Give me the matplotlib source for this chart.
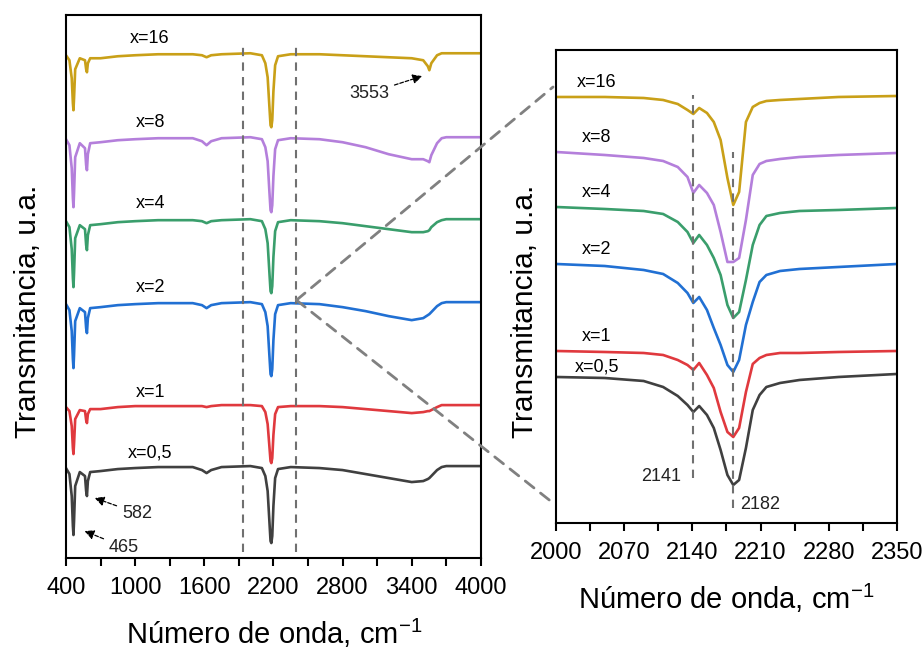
import matplotlib as mpl
mpl.use('Agg')
import matplotlib.pyplot as plt
from matplotlib.patches import ConnectionPatch

plt.rcParams['font.family'] = ['Liberation Sans', 'DejaVu Sans']
plt.rcParams['mathtext.fontset'] = 'custom'
plt.rcParams['mathtext.rm'] = 'Liberation Sans'

# ---- datos: espectro completo (panel izquierdo) ----
wn_full = [400, 430, 450, 460, 465, 470, 480, 520, 565, 575,
           582, 590, 610, 700, 850, 1000, 1200, 1500, 1580, 1620,
           1660, 1750, 2000, 2100, 2130, 2150, 2165, 2175, 2182, 2190,
           2200, 2215, 2240, 2350, 2600, 2800, 3000, 3200, 3400, 3500,
           3540, 3553, 3570, 3620, 3660, 3700, 4000]

t_full_05 = [0.90, 0.84, 0.62, 0.32, 0.23, 0.37, 0.72, 0.86, 0.82, 0.67,
             0.62, 0.77, 0.86, 0.87, 0.89, 0.90, 0.91, 0.91, 0.88, 0.85,
             0.88, 0.91, 0.92, 0.90, 0.82, 0.67, 0.37, 0.17, 0.15, 0.22,
             0.52, 0.80, 0.89, 0.91, 0.90, 0.88, 0.84, 0.80, 0.76, 0.77,
             0.79, 0.80, 0.82, 0.88, 0.91, 0.92, 0.92]
t_full_1 = [1.51, 1.47, 1.32, 1.10, 1.04, 1.14, 1.39, 1.48, 1.47, 1.38,
            1.35, 1.44, 1.49, 1.49, 1.51, 1.52, 1.52, 1.52, 1.52, 1.51,
            1.52, 1.53, 1.53, 1.52, 1.46, 1.34, 1.12, 0.97, 0.95, 1.00,
            1.23, 1.44, 1.51, 1.52, 1.52, 1.51, 1.49, 1.47, 1.45, 1.46,
            1.47, 1.47, 1.48, 1.51, 1.53, 1.53, 1.53]
t_full_2 = [2.54, 2.48, 2.27, 1.99, 1.90, 2.03, 2.37, 2.50, 2.46, 2.30,
            2.25, 2.40, 2.50, 2.51, 2.53, 2.54, 2.55, 2.55, 2.53, 2.50,
            2.53, 2.55, 2.56, 2.54, 2.46, 2.32, 2.03, 1.84, 1.82, 1.89,
            2.18, 2.44, 2.53, 2.55, 2.54, 2.51, 2.47, 2.42, 2.38, 2.40,
            2.43, 2.44, 2.46, 2.52, 2.55, 2.56, 2.56]
t_full_4 = [3.37, 3.31, 3.09, 2.80, 2.71, 2.85, 3.20, 3.33, 3.29, 3.13,
            3.08, 3.23, 3.33, 3.34, 3.36, 3.37, 3.38, 3.38, 3.37, 3.35,
            3.37, 3.38, 3.39, 3.37, 3.29, 3.15, 2.86, 2.67, 2.65, 2.72,
            3.01, 3.27, 3.36, 3.38, 3.37, 3.35, 3.32, 3.29, 3.26, 3.26,
            3.27, 3.28, 3.31, 3.36, 3.38, 3.39, 3.39]
t_full_8 = [4.19, 4.13, 3.90, 3.60, 3.51, 3.65, 4.01, 4.15, 4.10, 3.93,
            3.88, 4.04, 4.15, 4.16, 4.18, 4.19, 4.20, 4.20, 4.17, 4.13,
            4.17, 4.20, 4.21, 4.19, 4.11, 3.97, 3.67, 3.48, 3.46, 3.53,
            3.82, 4.09, 4.18, 4.20, 4.19, 4.16, 4.11, 4.04, 3.99, 3.99,
            3.97, 3.96, 4.03, 4.15, 4.20, 4.21, 4.21]
t_full_16 = [5.03, 4.98, 4.80, 4.55, 4.48, 4.60, 4.89, 5.00, 4.98, 4.89,
             4.86, 4.95, 5.00, 5.00, 5.02, 5.03, 5.04, 5.04, 5.03, 5.01,
             5.03, 5.04, 5.05, 5.03, 4.95, 4.81, 4.52, 4.33, 4.31, 4.38,
             4.67, 4.93, 5.02, 5.04, 5.04, 5.03, 5.02, 5.01, 5.00, 4.98,
             4.92, 4.88, 4.95, 5.03, 5.05, 5.05, 5.05]

# ---- datos: zona 2000-2350 (panel derecho) ----
wn_zoom = [2000, 2050, 2090, 2110, 2125, 2135, 2141, 2147, 2155, 2162, 2169,
           2176, 2182, 2188, 2195, 2202, 2209, 2216, 2230, 2250, 2290, 2350]

t_zoom_05 = [1.46, 1.45, 1.42, 1.36, 1.27, 1.18, 1.11, 1.17, 1.08, 0.95, 0.73,
             0.48, 0.38, 0.43, 0.75, 1.13, 1.28, 1.36, 1.40, 1.43, 1.46, 1.49]
t_zoom_1 = [1.72, 1.71, 1.70, 1.68, 1.63, 1.58, 1.53, 1.60, 1.48, 1.35, 1.11,
            0.91, 0.86, 0.95, 1.31, 1.59, 1.65, 1.68, 1.70, 1.70, 1.71, 1.72]
t_zoom_2 = [2.59, 2.57, 2.53, 2.49, 2.40, 2.30, 2.20, 2.26, 2.13, 1.95, 1.78,
            1.58, 1.51, 1.63, 1.98, 2.21, 2.41, 2.48, 2.52, 2.54, 2.56, 2.59]
t_zoom_4 = [3.16, 3.14, 3.12, 3.09, 3.01, 2.91, 2.80, 2.88, 2.78, 2.65, 2.48,
            2.18, 2.05, 2.11, 2.43, 2.78, 2.98, 3.07, 3.10, 3.12, 3.13, 3.15]
t_zoom_8 = [3.71, 3.68, 3.65, 3.62, 3.56, 3.46, 3.30, 3.38, 3.30, 3.18, 2.91,
            2.61, 2.61, 2.65, 3.03, 3.48, 3.59, 3.62, 3.64, 3.66, 3.68, 3.70]
t_zoom_16 = [4.26, 4.26, 4.25, 4.23, 4.19, 4.13, 4.09, 4.15, 4.10, 4.01, 3.83,
             3.45, 3.18, 3.31, 4.01, 4.16, 4.20, 4.22, 4.23, 4.24, 4.26, 4.27]

labels = ['x=0,5', 'x=1', 'x=2', 'x=4', 'x=8', 'x=16']
colors = ['#404040', '#E0393E', '#2170D3', '#3A9E6C', '#B47FDB', '#C9A018']
full_series = [t_full_05, t_full_1, t_full_2, t_full_4, t_full_8, t_full_16]
zoom_series = [t_zoom_05, t_zoom_1, t_zoom_2, t_zoom_4, t_zoom_8, t_zoom_16]

full_ticks = [400, 1000, 1600, 2200, 2800, 3400, 4000]
full_minor = [700, 1300, 1900, 2500, 3100, 3700]
zoom_ticks = [2000, 2070, 2140, 2210, 2280, 2350]
zoom_minor = [2035, 2105, 2175, 2245, 2315]

# posiciones de las etiquetas de cada curva
lab_y_full = [1.05, 1.66, 2.71, 3.55, 4.36, 5.20]
lab_y_zoom = [1.56, 1.86, 2.73, 3.30, 3.85, 4.40]

fig = plt.figure(figsize=(9.24, 6.5), dpi=100)
ax1 = fig.add_axes([0.0714, 0.1415, 0.449, 0.835])
ax2 = fig.add_axes([0.6017, 0.1954, 0.369, 0.7277])

for ax in (ax1, ax2):
    for s in ax.spines.values():
        s.set_linewidth(1.5)
    ax.set_yticks([])
    ax.tick_params(axis='x', which='both', direction='out', length=6,
                   width=1.5, pad=8, labelsize=17)

# ---- panel izquierdo ----
for y, c, lab, ly in zip(full_series, colors, labels, lab_y_full):
    ax1.plot(wn_full, y, color=c, lw=1.9)
    ax1.text(1130, ly, lab, fontsize=13, ha='center', va='center')

ax1.set_xlim(400, 4000)
ax1.set_ylim(0, 5.43)
ax1.set_xticks(full_ticks)
ax1.set_xticks(full_minor, minor=True)

for xv in (1940, 2400):
    ax1.plot([xv, xv], [0.06, 5.13], color='#707070', lw=1.5, ls=(0, (4, 3)))

arr = dict(arrowstyle='-|>', color='black', lw=0.9, ls=(0, (3, 1.5)),
           mutation_scale=14)
ax1.annotate('3553', xy=(3514, 4.83), xytext=(3030, 4.65), fontsize=13,
             ha='center', va='center', color='#222222', arrowprops=arr)
ax1.annotate('582', xy=(626, 0.61), xytext=(1016, 0.45), fontsize=13,
             ha='center', va='center', color='#222222', arrowprops=arr)
ax1.annotate('465', xy=(539, 0.28), xytext=(903, 0.11), fontsize=13,
             ha='center', va='center', color='#222222', arrowprops=arr)

# ---- panel derecho ----
for y, c, lab, ly in zip(zoom_series, colors, labels, lab_y_zoom):
    ax2.plot(wn_zoom, y, color=c, lw=1.9)
    ax2.text(2042, ly, lab, fontsize=13, ha='center', va='center')

ax2.set_xlim(2000, 2350)
ax2.set_ylim(0, 4.73)
ax2.set_xticks(zoom_ticks)
ax2.set_xticks(zoom_minor, minor=True)

ax2.plot([2141, 2141], [0.45, 4.28], color='#707070', lw=1.5, ls=(0, (4, 3)))
ax2.plot([2182, 2182], [0.15, 3.71], color='#707070', lw=1.5, ls=(0, (4, 3)))
ax2.text(2108, 0.46, '2141', fontsize=13, ha='center', va='center', color='#222222')
ax2.text(2210, 0.18, '2182', fontsize=13, ha='center', va='center', color='#222222')

# lineas de ampliacion
for yb in (4.36, 0.20):
    con = ConnectionPatch(xyA=(2400, 2.58), coordsA=ax1.transData,
                          xyB=(1997, yb), coordsB=ax2.transData,
                          color='#808080', lw=2, ls=(0, (4, 3)))
    fig.add_artist(con)

# etiquetas de ejes
xl = 'Número de onda, cm$^{-1}$'
fig.text(274 / 924, 1 - 633 / 650, xl, fontsize=21, ha='center', va='center')
fig.text(726 / 924, 1 - 598 / 650, xl, fontsize=21, ha='center', va='center')
fig.text(28 / 924, 1 - 311 / 650, 'Transmitancia, u.a.', fontsize=21.5,
         rotation=90, ha='center', va='center')
fig.text(525 / 924, 1 - 311 / 650, 'Transmitancia, u.a.', fontsize=21.5,
         rotation=90, ha='center', va='center')

fig.savefig('out.png', dpi=100)
